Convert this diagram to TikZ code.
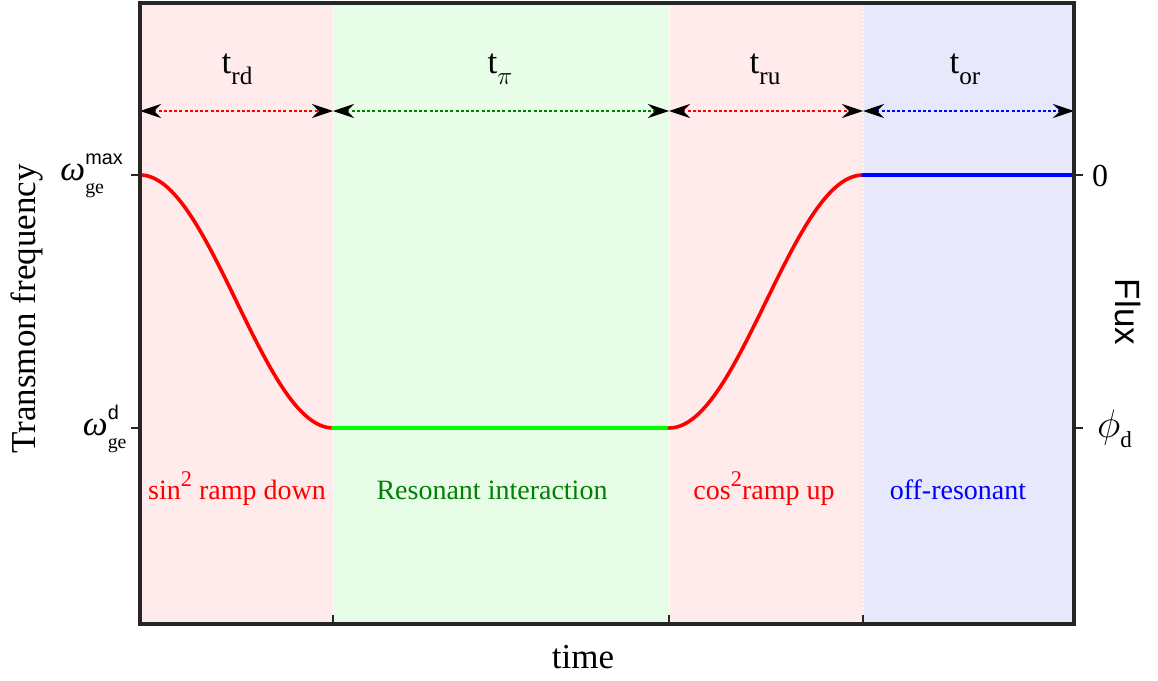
\RequirePackage{fix-cm}
\documentclass[tikz,border=0pt]{standalone}
\usepackage{fontspec}
\setmainfont{Liberation Serif}
\setsansfont{Liberation Sans}
\usetikzlibrary{arrows.meta}
\definecolor{pinkbg}{RGB}{255,235,235}
\definecolor{greenbg}{RGB}{232,253,232}
\definecolor{bluebg}{RGB}{232,232,253}
\definecolor{framec}{RGB}{38,38,38}
\definecolor{dgreen}{RGB}{0,128,0}
\newcommand\mysub[1]{\raisebox{-0.32em}{\scalebox{0.72}{#1}}}
\newcommand\fs[1]{\fontsize{#1}{#1}\selectfont}
\tikzset{
  spanarrow/.style={line width=1.2pt, dash pattern=on 3pt off 2.2pt, {Stealth[length=21pt,width=14pt,inset=7pt,black]}-{Stealth[length=21pt,width=14pt,inset=7pt,black]}},
  curve/.style={line width=3.6pt, line cap=round},
  ticklab/.style={inner sep=0pt, font=\fs{32}},
  tlab/.style={inner sep=0pt, anchor=base, font=\fs{35}},
  leg/.style={inner sep=0pt, anchor=base, font=\fs{28}},
  axlab/.style={inner sep=0pt, font=\fs{35}},
  tickm/.style={line width=1.2pt, draw=framec},
}
\begin{document}
\begin{tikzpicture}[x=1pt,y=-1pt]
\useasboundingbox (0,0) rectangle (1158,680);
% backgrounds
\fill[pinkbg] (140,3) rectangle (333,624);
\fill[greenbg] (333,3) rectangle (669,624);
\fill[pinkbg] (669,3) rectangle (863,624);
\fill[bluebg] (863,3) rectangle (1074,624);
\foreach \xx in {333,669,863}
  \draw[white, line width=0.8pt, dash pattern=on 2pt off 2pt] (\xx,3) -- (\xx,624);
% arrow anchors
\coordinate (a0) at (140,111);
\coordinate (a1) at (333,111);
\coordinate (a2) at (669,111);
\coordinate (a3) at (863,111);
\coordinate (a4) at (1074,111);
\draw[spanarrow, red] (a0) -- (a1);
\draw[spanarrow, dgreen] (a1) -- (a2);
\draw[spanarrow, red] (a2) -- (a3);
\draw[spanarrow, blue] (a3) -- (a4);
% duration labels
\node[tlab] (trd) at (237,73) {t\mysub{rd}};
\node[tlab] (tpi) at (500,73) {t\mysub{$\pi$}};
\node[tlab] (tru) at (765,73) {t\mysub{ru}};
\node[tlab] (tor) at (965,73) {t\mysub{or}};
% curves
\coordinate (p0) at (140,175);
\coordinate (p1) at (333,428);
\coordinate (p2) at (669,428);
\coordinate (p3) at (863,175);
\coordinate (p4) at (1074,175);
\draw[curve, red] plot[domain=0:1, samples=80] ({140+193*\x},{175+253*sin(90*\x)^2});
\draw[curve, green] (p1) -- (p2);
\draw[curve, red] plot[domain=0:1, samples=80] ({669+194*\x},{428-253*sin(90*\x)^2});
\draw[curve, blue] (p3) -- (p4);
% legend texts
\node[leg, text=red] (l1) at (237,499) {sin\raisebox{0.45em}{\scalebox{0.8}{2}} ramp down};
\node[leg, text=dgreen] (l2) at (492,499) {Resonant interaction};
\node[leg, text=red] (l3) at (764,499) {cos\raisebox{0.45em}{\scalebox{0.8}{2}}ramp up};
\node[leg, text=blue] (l4) at (958,499) {off-resonant};
% ticks
\draw[tickm] (140,175) -- (131,175);
\draw[tickm] (140,428) -- (131,428);
\draw[tickm] (1074,175) -- (1083,175);
\draw[tickm] (1074,428) -- (1083,428);
\foreach \xx in {333,669,863}
  \draw[tickm] (\xx,624) -- (\xx,615);
% tick labels
\node[ticklab, anchor=east] (wmax) at (123,176) {\scalebox{1.1}{\itshape ω}\rlap{\raisebox{-0.42em}{\scalebox{0.62}{ge}}}\raisebox{0.5em}{\scalebox{0.62}{\sffamily max}}};
\node[ticklab, anchor=east] (wd) at (119,429) {\scalebox{1.1}{\itshape ω}\rlap{\raisebox{-0.42em}{\scalebox{0.62}{ge}}}\raisebox{0.5em}{\scalebox{0.62}{\sffamily d}}\hspace{0.35em}};
\node[ticklab, anchor=west] (zero) at (1092,176) {0};
\node[ticklab, anchor=west] (phid) at (1097,429) {\scalebox{1.25}{$\phi$}\mysub{d}};
% axis labels
\node[axlab, rotate=90] (ylab) at (27,309) {Transmon frequency};
\node[axlab, rotate=-90, font=\fs{35}\sffamily] (flux) at (1128,312) {Flux};
\node[axlab] (xlab) at (583,657) {time};
% frame
\draw[framec, line width=4pt] (140,3) rectangle (1074,624);
\end{tikzpicture}
\end{document}
